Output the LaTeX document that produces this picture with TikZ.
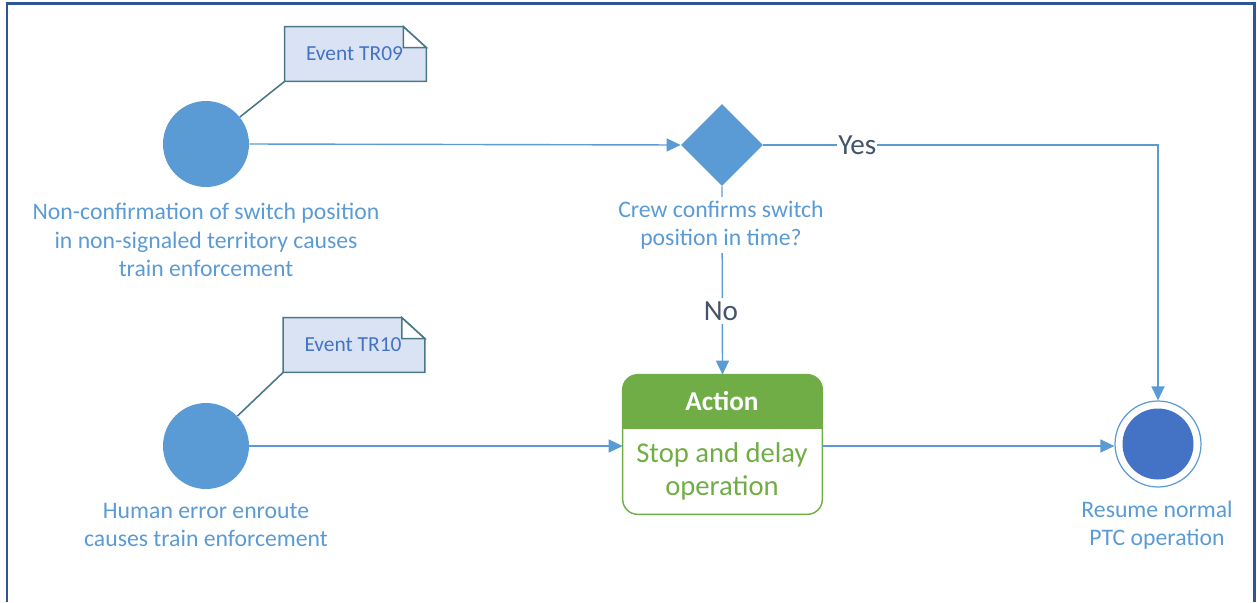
\documentclass[tikz,border=0pt]{standalone}
\usepackage{fontspec}
\setmainfont{Carlito}
\usetikzlibrary{shapes.geometric,arrows.meta,calc}
\definecolor{cblue}{HTML}{5B9BD5}
\definecolor{dblue}{HTML}{4472C4}
\definecolor{frame}{HTML}{2F5597}
\definecolor{notefill}{HTML}{DAE3F3}
\definecolor{noteline}{HTML}{4A7888}
\definecolor{actgreen}{HTML}{70AD47}
\definecolor{yn}{HTML}{44546A}
\tikzset{
  startnode/.style={circle,fill=cblue,minimum size=1.72cm,inner sep=0pt},
  lbl/.style={text=cblue,align=center,font=\fontsize{13.5}{16.2}\selectfont,inner sep=2pt},
  flow/.style={draw=cblue,line width=0.8pt,-{Triangle[length=0.28cm,width=0.26cm]}},
  notebox/.style={minimum width=2.82cm,minimum height=1.08cm,inner sep=0pt,text=dblue,font=\fontsize{12.2}{14}\selectfont},
  noteshape/.style={draw=noteline,fill=notefill,line width=0.9pt,line join=miter},
  notelink/.style={draw=noteline,line width=0.9pt},
  ynlbl/.style={text=yn,fill=white,font=\fontsize{16.6}{19}\selectfont,inner sep=0.6pt}
}
\begin{document}
\begin{tikzpicture}[x=0.02cm,y=-0.02cm]
\useasboundingbox (0,0) rectangle (1257,602);
% frame
\draw[frame,line width=0.06cm] (7,602) -- (7,3) -- (1254,3) -- (1254,602);
% start nodes
\node[startnode] (c1) at (206,144) {};
\node[startnode] (c2) at (206,446) {};
% notes
\node[notebox] (n1) at (355.5,54) {};
\node[notebox] (n2) at (354,345) {};
\foreach \n in {n1,n2}{
  \draw[noteshape] (\n.south west) -- (\n.north west) -- ($(\n.north east)+(-23,0)$) -- ($(\n.north east)+(0,21)$) -- (\n.south east) -- cycle;
  \draw[noteshape,fill=white] ($(\n.north east)+(-23,0)$) -- ($(\n.north east)+(-23,21)$) -- ($(\n.north east)+(0,21)$) -- cycle;
}
\node[notebox,anchor=center] (t1) at ($(n1.center)+(-1,0)$) {Event TR09};
\node[notebox,anchor=center] (t2) at ($(n2.center)+(-1,0)$) {Event TR10};
\draw[notelink] (c1) -- (n1.south west);
\draw[notelink] (c2) -- (n2.south west);
% decision
\node[diamond,fill=cblue,minimum width=1.64cm,minimum height=1.64cm,inner sep=0pt] (dia) at (722,145) {};
% action
\node[minimum width=3.98cm,minimum height=2.78cm,inner sep=0pt] (act) at (722.5,444.5) {};
\begin{scope}
  \clip (act.north west) rectangle ($(act.east)+(0,-16.5)$);
  \fill[actgreen,rounded corners=0.3cm] (act.south west) rectangle (act.north east);
\end{scope}
\draw[actgreen,line width=0.8pt,rounded corners=0.3cm] (act.south west) rectangle (act.north east);
\node[text=white,font=\bfseries\fontsize{15.5}{18}\selectfont] (acth) at (722,401) {Action};
\node[text=actgreen,align=center,font=\fontsize{16.3}{18.7}\selectfont] (actb) at (722,471) {Stop and delay\\operation};
% end node
\node[circle,draw=cblue,line width=0.7pt,minimum size=1.72cm,inner sep=0pt] (endo) at (1158,444) {};
\node[circle,fill=dblue,minimum size=1.42cm,inner sep=0pt] (endi) at (endo.center) {};
\coordinate (yc) at (1158,145);
% connectors
\draw[flow] (c1.east) -- (dia.west);
\draw[flow] (c2.east) -- (c2.east -| act.west);
\draw[flow] (act.east |- c2.east) -- (c2.east -| endo.west);
\draw[flow] (dia.east) -- node[ynlbl,pos=0.238] (yes) {Yes} (yc) -- (endo.north);
\draw[flow] (dia.south) -- (act.north);
% labels
\node[lbl,fill=white] (dl) at (721,225) {Crew confirms switch\\position in time?};
\node[ynlbl,inner sep=2pt] (no) at (721,311) {No};
\node[lbl] (l1) at (206,240) {Non-confirmation of switch position\\in non-signaled territory causes\\train enforcement};
\node[lbl] (l2) at (206,525) {Human error enroute\\causes train enforcement};
\node[lbl] (l3) at (1157,525) {Resume normal\\PTC operation};
\end{tikzpicture}
\end{document}
